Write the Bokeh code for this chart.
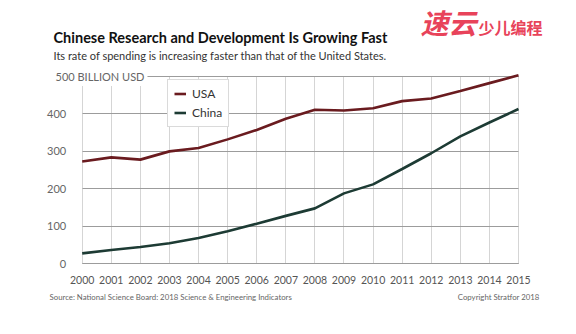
from bokeh.plotting import figure
from bokeh.models import Range1d, FixedTicker, Label, Legend, LegendItem, LinearAxis, Grid
from bokeh.embed import file_html
from bokeh.resources import INLINE

# ---- data ----
years = list(range(2000, 2016))
usa = [272, 283, 277, 299, 308, 331, 356, 386, 410, 408, 414, 433, 440, 460, 481, 502]
china = [27, 36, 44, 54, 68, 86, 106, 127, 147, 187, 211, 252, 294, 339, 376, 412]
y_ticks = [0, 100, 200, 300, 400, 500]
x_ticks = years
title_text = "Chinese Research and Development Is Growing Fast"
subtitle_text = "Its rate of spending is increasing faster than that of the United States."
unit_text = "500 BILLION USD"
source_text = "Source: National Science Board: 2018 Science & Engineering Indicators"
copyright_text = "Copyright Stratfor 2018"
logo_big = "速云"
logo_small = "少儿编程"

FONT = "Lato"
W, H = 576, 334
# plot area in canvas pixels
PX_L, PX_R, PX_T, PX_B = 81.7, 518.0, 75.5, 263.0
x0, x1 = years[0], years[-1]
y0, y1 = y_ticks[0], y_ticks[-1]
sx = (PX_R - PX_L) / (x1 - x0)
sy = (PX_B - PX_T) / (y1 - y0)
x_range = Range1d(x0 - PX_L / sx, x1 + (W - PX_R) / sx)
y_range = Range1d(y0 - (H - PX_B) / sy, y1 + PX_T / sy)

p = figure(width=W, height=H, output_backend="svg", toolbar_location=None,
           x_range=x_range, y_range=y_range, x_axis_type=None, y_axis_type=None,
           min_border=0, min_border_left=0, min_border_right=0,
           min_border_top=0, min_border_bottom=0)
p.outline_line_color = None
p.background_fill_color = "white"
p.border_fill_color = "white"
p.grid.visible = False

# grids limited to the plot area
ygrid = Grid(dimension=1, ticker=FixedTicker(ticks=y_ticks), cross_bounds=(x0, x1),
             grid_line_color="#9c9c9c", grid_line_width=1)
xgrid = Grid(dimension=0, ticker=FixedTicker(ticks=x_ticks), cross_bounds=(y0, y1),
             grid_line_color="#aaaaaa", grid_line_width=1, grid_line_dash="1 1")
p.add_layout(xgrid)
p.add_layout(ygrid)

# axes
xaxis = LinearAxis(fixed_location=y0, bounds=(x0, x1), ticker=FixedTicker(ticks=x_ticks))
xaxis.axis_line_color = "#9c9c9c"
xaxis.major_tick_line_color = None
xaxis.minor_tick_line_color = None
xaxis.major_label_text_font = FONT
xaxis.major_label_text_font_size = "10.5px"
xaxis.major_label_text_color = "#555555"
xaxis.major_label_standoff = 6
p.add_layout(xaxis, "below")

yaxis = LinearAxis(fixed_location=x0, bounds=(y0, y1), ticker=FixedTicker(ticks=y_ticks))
yaxis.axis_line_color = None
yaxis.major_tick_line_color = None
yaxis.minor_tick_line_color = None
yaxis.major_label_text_font = FONT
yaxis.major_label_text_font_size = "11px"
yaxis.major_label_text_color = "#666666"
yaxis.major_label_standoff = 10
yaxis.major_label_overrides = {500: ""}
p.add_layout(yaxis, "left")

# lines
r_usa = p.line(years, usa, line_color="#6a1b1f", line_width=2.6)
r_china = p.line(years, china, line_color="#1d3b34", line_width=2.6)

legend = Legend(items=[LegendItem(label="USA", renderers=[r_usa]),
                       LegendItem(label="China", renderers=[r_china])],
                location=(167, H - 127))
legend.border_line_color = "#b5b5b5"
legend.border_line_width = 1
legend.background_fill_color = "white"
legend.background_fill_alpha = 1
legend.padding = 6
legend.spacing = 4
legend.glyph_width = 12
legend.glyph_height = 15
legend.label_height = 15
legend.label_standoff = 6
legend.label_text_font = FONT
legend.label_text_font_size = "12px"
legend.label_text_color = "#333333"
legend.margin = 0
p.add_layout(legend)

def canvas_label(text, cx, cy, size, color, style="normal", align="left", font=FONT, bg=None):
    lab = Label(x=cx, y=H - cy, x_units="screen", y_units="screen",
                text=text, text_font=font, text_font_size=size, text_color=color,
                text_font_style=style, text_align=align, text_baseline="middle")
    if bg:
        lab.background_fill_color = bg
        lab.background_fill_alpha = 1
        lab.padding = 3
    p.add_layout(lab)

canvas_label(unit_text, 52, 76, "11px", "#666666", bg="white")
canvas_label(title_text, 53, 37, "14.5px", "#111111", style="bold")
canvas_label(subtitle_text, 53, 55, "11px", "#333333")
canvas_label(source_text, 49, 296, "7.8px", "#666666")
canvas_label(copyright_text, 539, 296, "7.8px", "#666666", align="right")
canvas_label(logo_big, 420, 21, "28px", "#e8435a", style="bold italic", font="Noto Sans CJK SC")
canvas_label(logo_small, 478, 26, "16px", "#e8435a", style="bold", font="Noto Sans CJK SC")

open("out.html", "w").write(file_html(p, INLINE))
